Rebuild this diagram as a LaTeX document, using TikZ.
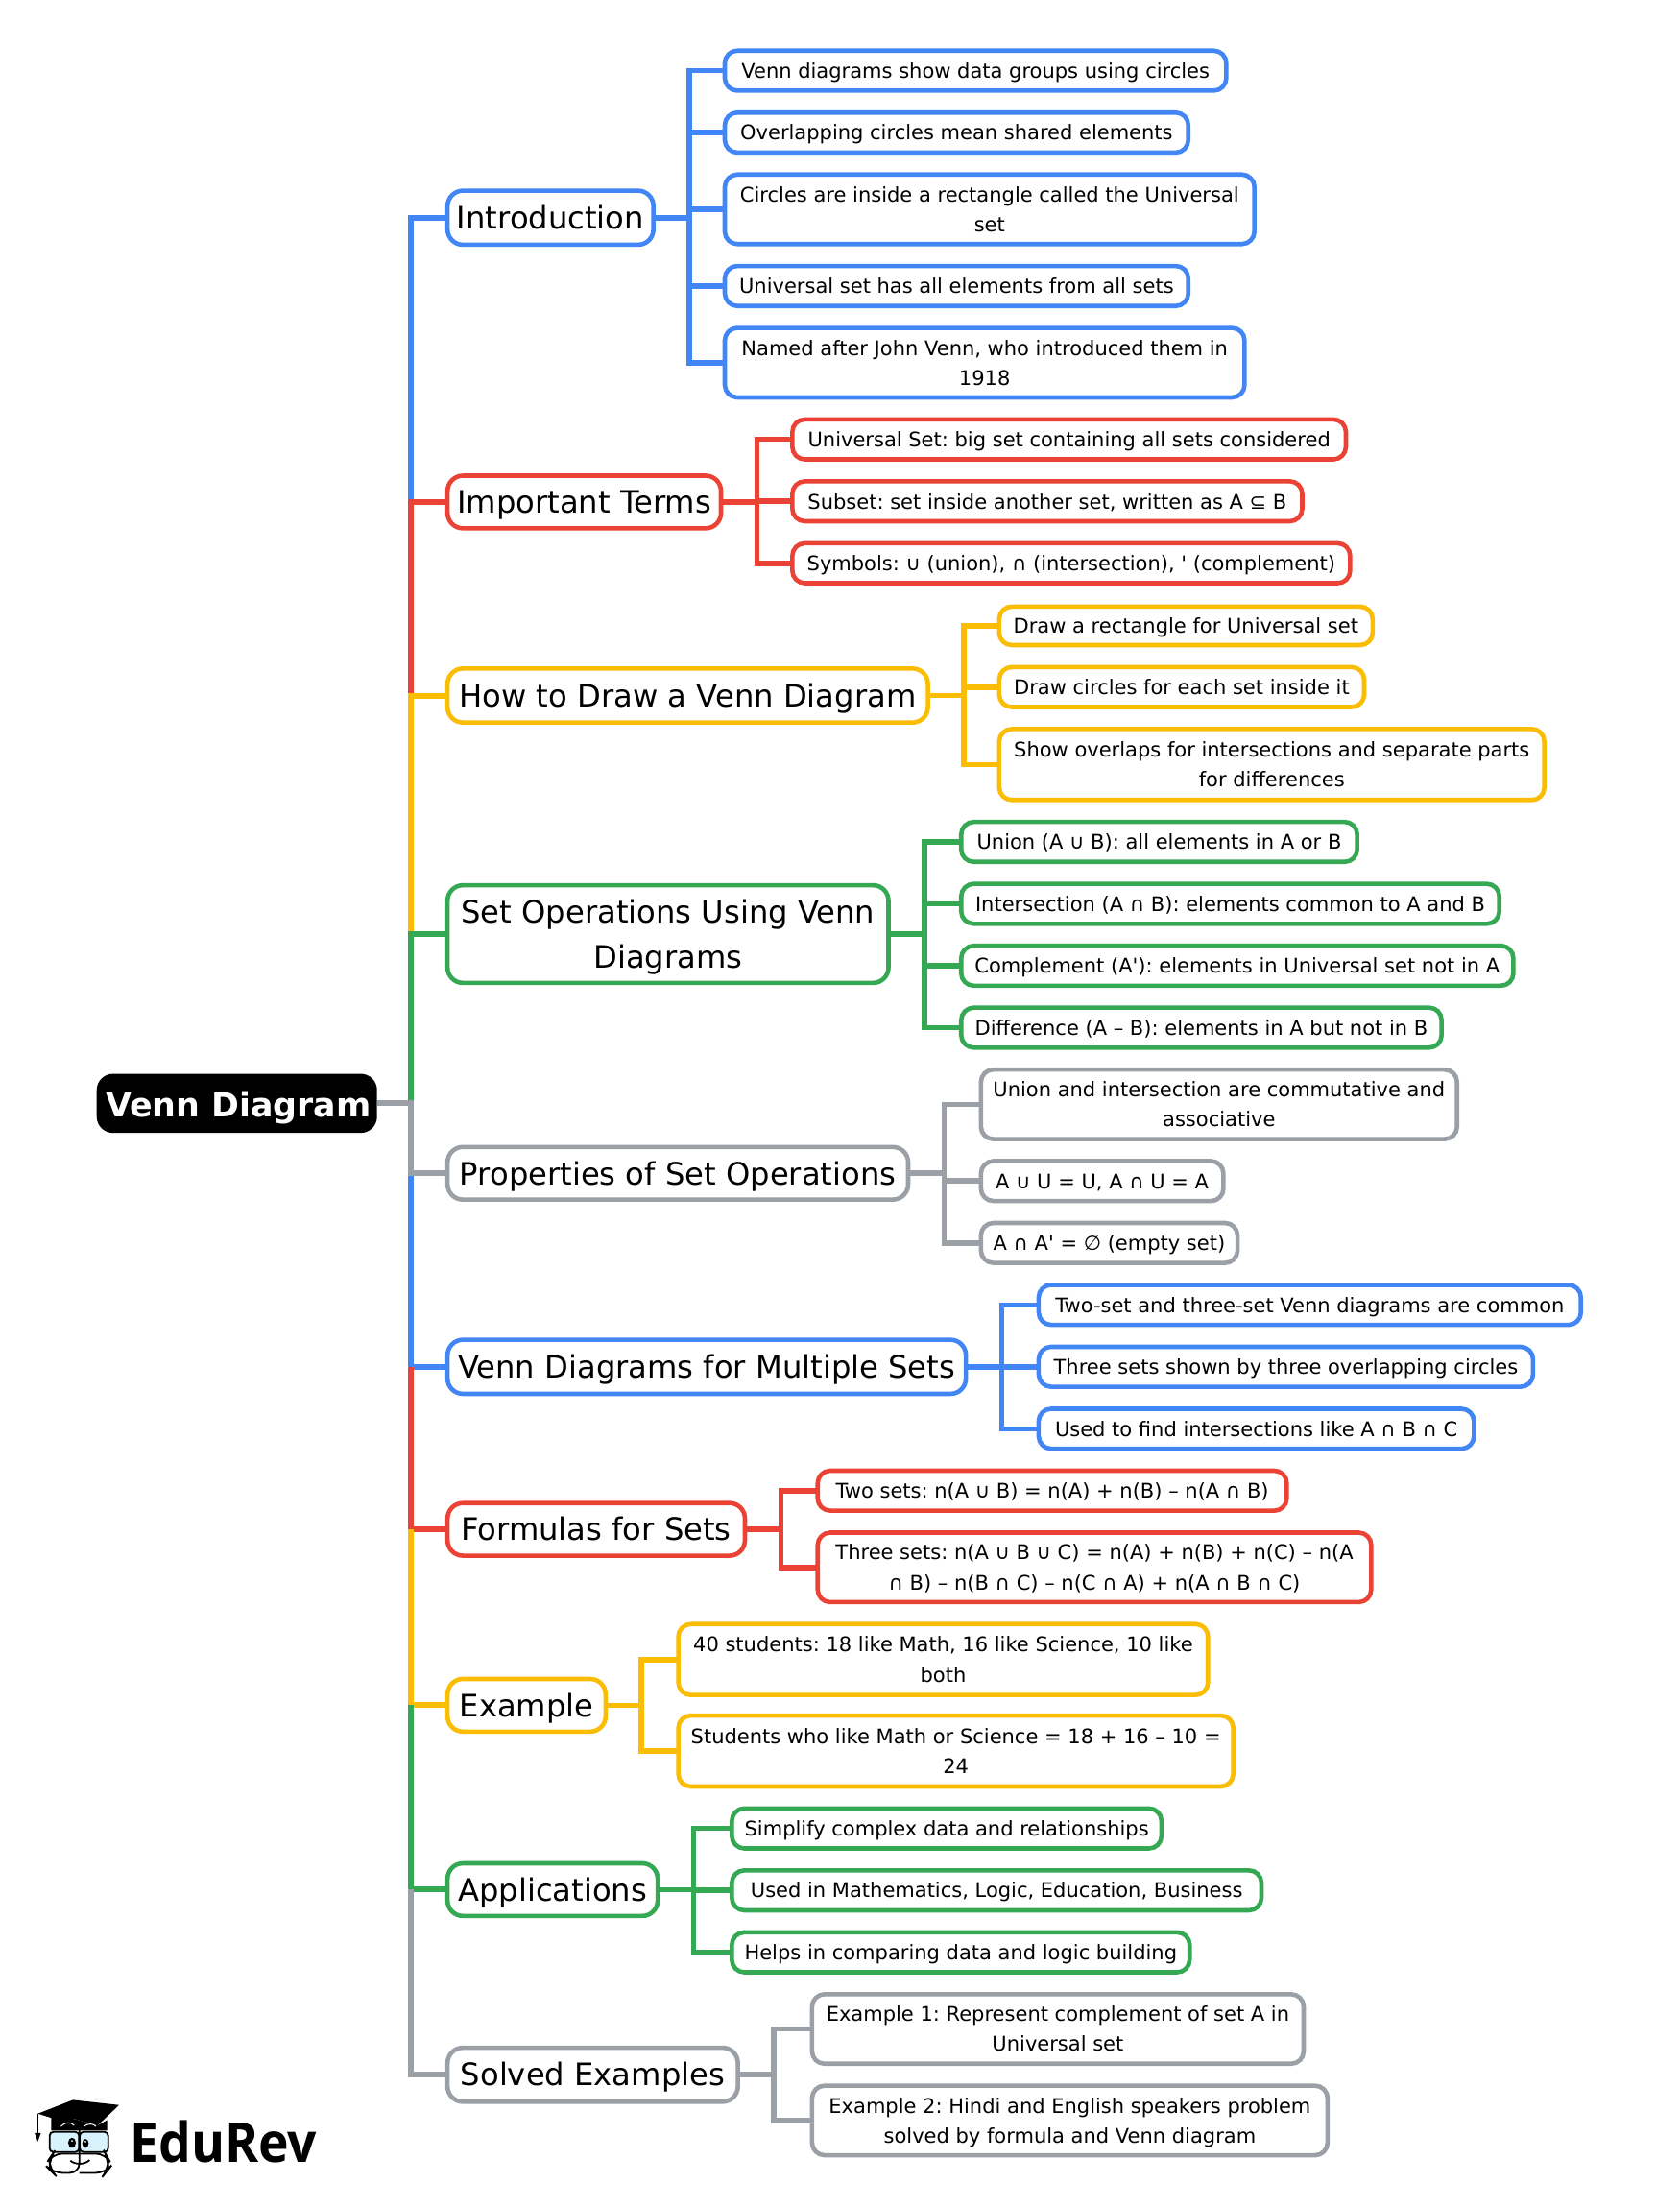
\documentclass[tikz,border=0pt]{standalone}
\usepackage{fontspec}
\setmainfont{DejaVu Sans}[Ligatures=TeXOff]
\newfontfamily\logofont{Open Sans}[FakeStretch=0.93]
\definecolor{cblue}{HTML}{4285F4}
\definecolor{cred}{HTML}{EA4335}
\definecolor{cyel}{HTML}{FBBC04}
\definecolor{cgrn}{HTML}{34A853}
\definecolor{cgry}{HTML}{9AA0A6}
\tikzset{
  leaf/.style={rectangle,rounded corners=6.5pt,line width=2.3pt,outer sep=0pt,inner sep=0pt,align=center,font=\fontsize{10.5}{15.6}\selectfont\frenchspacing},
  topic/.style={rectangle,rounded corners=8pt,line width=2.3pt,outer sep=0pt,inner sep=0pt,align=center,font=\fontsize{16.1}{23.4}\selectfont\frenchspacing},
  rootbox/.style={rectangle,rounded corners=8.5pt,fill=black,text=white,outer sep=0pt,inner sep=0pt,font=\fontsize{17.4}{20}\selectfont\bfseries},
  link/.style={draw=#1,line width=2.8pt},
  bus/.style={draw=#1,line width=3pt},
}
\newcommand\bx[8]{%
  \pgfmathsetmacro\bxcx{(#4+#6-0.7)/2}%
  \pgfmathsetmacro\bxcy{(#5+#7-0.6)/2}%
  \pgfmathsetmacro\bxw{(#6-#4-0.7)*0.733}%
  \pgfmathsetmacro\bxh{(#7-#5-0.6)*0.733}%
  \node[#1,draw=#2,minimum width=\bxw pt,minimum height=\bxh pt] (#3) at (\bxcx,\bxcy) {\rule{0pt}{\dimexpr\ht\strutbox+0.15em\relax}#8\strut};}
\newcommand\conn[3]{\foreach \lf in {#3} {\draw[link=#1] (#2.east) -- ++(25.5,0) |- (\lf.west);}}
\begin{document}
\begin{tikzpicture}[x=0.733pt,y=-0.733pt]
\useasboundingbox (0,0) rectangle (1193.7,1568.2);
\node[rootbox,minimum width=146pt,minimum height=30.8pt] (root) at (168.3,784) {\hspace*{1.5pt}\rule{0pt}{17.5pt}Venn Diagram};
\coordinate (busx) at (292,784);
% topics
\bx{topic}{cblue}{t1}{318}{135.5}{465}{174.5}{Introduction}
\bx{topic}{cred}{t2}{318}{338}{513}{376}{Important Terms}
\bx{topic}{cyel}{t3}{318}{475}{660}{514}{How to Draw a Venn Diagram}
\bx{topic}{cgrn}{t4}{318}{629}{632}{699}{Set Operations Using Venn\\Diagrams}
\bx{topic}{cgry}{t5}{318}{815}{646}{853}{Properties of Set Operations}
\bx{topic}{cblue}{t6}{318}{952}{687}{991}{Venn Diagrams for Multiple Sets}
\bx{topic}{cred}{t7}{318}{1068}{530}{1106}{Formulas for Sets}
\bx{topic}{cyel}{t8}{318}{1193}{431}{1231}{Example}
\bx{topic}{cgrn}{t9}{318}{1324}{468}{1362}{Applications}
\bx{topic}{cgry}{t10}{318}{1455}{525}{1494}{Solved Examples}
% leaves
\bx{leaf}{cblue}{a1}{515}{36}{872}{65}{Venn diagrams show data groups using circles}
\bx{leaf}{cblue}{a2}{515}{80}{845}{109}{Overlapping circles mean shared elements}
\bx{leaf}{cblue}{a3}{515}{124}{892}{174}{Circles are inside a rectangle called the Universal\\set}
\bx{leaf}{cblue}{a4}{515}{189}{845}{218}{Universal set has all elements from all sets}
\bx{leaf}{cblue}{a5}{515}{233}{885}{283}{Named after John Venn, who introduced them in\\1918}
\bx{leaf}{cred}{b1}{563}{298}{957}{327}{Universal Set: big set containing all sets considered}
\bx{leaf}{cred}{b2}{563}{342}{926}{371}{Subset: set inside another set, written as A ⊆ B}
\bx{leaf}{cred}{b3}{563}{386}{960}{415}{Symbols: ∪ (union), ∩ (intersection), ' (complement)}
\bx{leaf}{cyel}{c1}{710}{431}{976}{459}{Draw a rectangle for Universal set}
\bx{leaf}{cyel}{c2}{710}{474}{970}{503}{Draw circles for each set inside it}
\bx{leaf}{cyel}{c3}{710}{518}{1098}{569}{Show overlaps for intersections and separate parts\\for differences}
\bx{leaf}{cgrn}{d1}{683}{584}{965}{613}{Union (A ∪ B): all elements in A or B}
\bx{leaf}{cgrn}{d2}{683}{628}{1066}{657}{Intersection (A ∩ B): elements common to A and B}
\bx{leaf}{cgrn}{d3}{683}{672}{1076}{701}{Complement (A'): elements in Universal set not in A}
\bx{leaf}{cgrn}{d4}{683}{716}{1025}{745}{Difference (A – B): elements in A but not in B}
\bx{leaf}{cgry}{e1}{697}{760}{1036}{810}{Union and intersection are commutative and\\associative}
\bx{leaf}{cgry}{e2}{697}{825}{870}{854}{A ∪ U = U, A ∩ U = A}
\bx{leaf}{cgry}{e3}{697}{869}{880}{898}{A ∩ A' = ∅ (empty set)}
\bx{leaf}{cblue}{f1}{738}{913}{1124}{942}{Two-set and three-set Venn diagrams are common}
\bx{leaf}{cblue}{f2}{738}{957}{1090}{986}{Three sets shown by three overlapping circles}
\bx{leaf}{cblue}{f3}{738}{1001}{1048}{1030}{Used to find intersections like A ∩ B ∩ C}
\bx{leaf}{cred}{g1}{581}{1045}{915}{1074}{Two sets: n(A ∪ B) = n(A) + n(B) – n(A ∩ B)}
\bx{leaf}{cred}{g2}{581}{1089}{975}{1139}{Three sets: n(A ∪ B ∪ C) = n(A) + n(B) + n(C) – n(A\\∩ B) – n(B ∩ C) – n(C ∩ A) + n(A ∩ B ∩ C)}
\bx{leaf}{cyel}{h1}{482}{1154}{859}{1205}{40 students: 18 like Math, 16 like Science, 10 like\\both}
\bx{leaf}{cyel}{h2}{482}{1219}{877}{1270}{Students who like Math or Science = 18 + 16 – 10 =\\24}
\bx{leaf}{cgrn}{i1}{520}{1285}{826}{1314}{Simplify complex data and relationships}
\bx{leaf}{cgrn}{i2}{520}{1329}{897}{1358}{Used in Mathematics, Logic, Education, Business}
\bx{leaf}{cgrn}{i3}{520}{1373}{846}{1402}{Helps in comparing data and logic building}
\bx{leaf}{cgry}{j1}{577}{1417}{927}{1467}{Example 1: Represent complement of set A in\\Universal set}
\bx{leaf}{cgry}{j2}{577}{1482}{944}{1532}{Example 2: Hindi and English speakers problem\\solved by formula and Venn diagram}
% main bus
\draw[bus=cblue] (t1.west) -| (t2.west -| busx);
\draw[bus=cred] (t2.west) -| (t3.west -| busx);
\draw[bus=cyel] (t3.west) -| (t4.west -| busx);
\draw[bus=cgrn] (t4.west) -| (busx);
\draw[bus=cblue] (t6.west) -| (t5.west -| busx);
\draw[bus=cred] (t7.west) -| (t6.west -| busx);
\draw[bus=cyel] (t8.west) -| (t7.west -| busx);
\draw[bus=cgrn] (t9.west) -| (t8.west -| busx);
\draw[bus=cgry] (t10.west) -| (t9.west -| busx);
\draw[bus=cgry] (root.east) -| (t5.west -| busx) -- (t5.west);
% sub links
\conn{cblue}{t1}{a1,a2,a3,a4,a5}
\conn{cred}{t2}{b1,b2,b3}
\conn{cyel}{t3}{c1,c2,c3}
\conn{cgrn}{t4}{d1,d2,d3,d4}
\conn{cgry}{t5}{e1,e2,e3}
\conn{cblue}{t6}{f1,f2,f3}
\conn{cred}{t7}{g1,g2}
\conn{cyel}{t8}{h1,h2}
\conn{cgrn}{t9}{i1,i2,i3}
\conn{cgry}{t10}{j1,j2}
% logo
\begin{scope}[shift={(0,1432.5)},x=0.16667pt,y=-0.16667pt]
\fill[black] (118,305) -- (228,262) -- (372,278) -- (305,342) -- (235,322) -- (160,318) -- cycle;
\fill[black] (160,315) -- (235,322) -- (305,342) -- (335,325) -- (335,358) -- (160,358) -- cycle;
\draw[black,line width=0.6pt] (118,305) -- (118,365);
\fill[black] (108,365) -- (128,365) -- (118,392) -- cycle;
\draw[white,line width=0.5pt] (190,345) .. controls (205,330) and (220,330) .. (232,342);
\draw[white,line width=0.5pt] (262,345) .. controls (275,335) and (290,335) .. (300,345);
\draw[black,line width=0.9pt,fill=cyan!15,rounded corners=2pt] (155,362) rectangle (247,425);
\draw[black,line width=0.9pt,fill=cyan!15,rounded corners=2pt] (249,362) rectangle (338,425);
\fill[black] (225,396) ellipse [x radius=12,y radius=16];
\fill[black] (267,398) ellipse [x radius=10,y radius=14];
\fill[white] (225,390) circle [radius=3];
\fill[white] (267,392) circle [radius=3];
\draw[black,line width=0.9pt,rounded corners=5pt] (248,430) -- (165,430) -- (155,445) -- (155,480) -- (165,490) -- (248,490) -- (248,355);
\draw[black,line width=0.9pt,rounded corners=5pt] (248,430) -- (330,430) -- (338,445) -- (338,480) -- (330,490) -- (248,490);
\draw[black,line width=0.9pt] (220,452) .. controls (235,465) and (265,465) .. (280,450);
\node[anchor=base west,inner sep=0pt,font=\logofont\fontsize{28.7}{30}\selectfont\bfseries] (logo) at (405,458) {EduRev};
\end{scope}
\end{tikzpicture}
\end{document}
